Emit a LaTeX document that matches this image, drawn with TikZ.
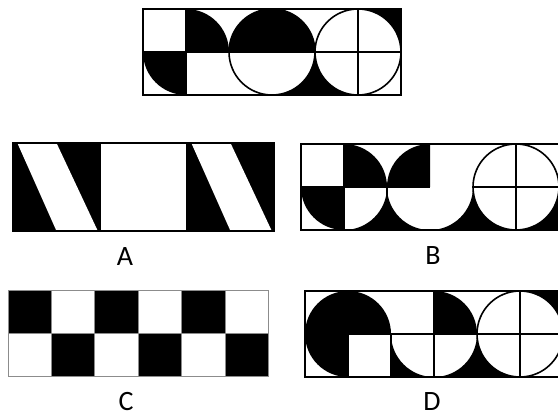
\documentclass[tikz,border=0pt]{standalone}
\usepackage{fontspec}
\setmainfont{Carlito}
\usepackage{tikz}

\tikzset{
    frame/.style={line width=1.8pt},
    cellline/.style={line width=1.6pt},
    greyline/.style={line width=0.9pt, draw=black!45},
    lab/.style={font=\fontsize{28}{30}\selectfont, inner sep=0pt},
}

\begin{document}
\begin{tikzpicture}[x=1pt, y=1pt]
\useasboundingbox (0,0) rectangle (558,418);

% =============================================================================
% Top: the given strip
% =============================================================================
\begin{scope}[shift={(143pt,323pt)}, x=43pt, y=43pt]
% black parts
\fill (1,1) -- (0,1) arc[start angle=180, end angle=270, radius=1] -- cycle;
\fill (1,1) -- (1,2) arc[start angle=90, end angle=0, radius=1] -- cycle;
\fill (2,1) arc[start angle=180, end angle=0, radius=1] -- cycle;
\fill (3,0) -- (5,0) arc[start angle=270, end angle=180, radius=1]
    arc[start angle=0, end angle=-90, radius=1] -- cycle;
\fill (6,2) -- (6,1) arc[start angle=0, end angle=90, radius=1] -- cycle;
% lines
\draw[cellline] (0,1) -- (2,1) (1,0) -- (1,2);
\draw[cellline] (3,1) circle (1) (2,1) -- (4,1);
\draw[cellline] (5,1) circle (1) (4,1) -- (6,1) (5,0) -- (5,2);
\draw[frame] (0,0) rectangle (6,2);
\end{scope}

% =============================================================================
% Option A
% =============================================================================
\begin{scope}[shift={(13pt,187pt)}, x=43.5pt, y=44pt]
\fill (0,0) rectangle (6,2);
\fill[white] (0.1,2) -- (1.0,2) -- (1.95,0) -- (1.0,0) -- cycle;
\fill[white] (4.1,2) -- (5.0,2) -- (5.95,0) -- (5.0,0) -- cycle;
\fill[white] (2,0) rectangle (4,2);
\draw[cellline] (2,0) rectangle (4,2);
\draw[frame] (0,0) rectangle (6,2);
\end{scope}
\node[lab] (labA) at (125,161) {A};

% =============================================================================
% Option B
% =============================================================================
\begin{scope}[shift={(301pt,188pt)}, x=43pt, y=43pt]
% black parts
\fill (1,1) -- (0,1) arc[start angle=180, end angle=270, radius=1] -- cycle;
\fill (1,1) -- (1,2) arc[start angle=90, end angle=0, radius=1] -- cycle;
\fill (1,0) -- (3,0) arc[start angle=270, end angle=180, radius=1]
    arc[start angle=0, end angle=-90, radius=1] -- cycle;
\fill (3,1) -- (2,1) arc[start angle=180, end angle=90, radius=1] -- cycle;
\fill (3,0) -- (5,0) arc[start angle=270, end angle=180, radius=1]
    arc[start angle=0, end angle=-90, radius=1] -- cycle;
\fill (6,0) -- (5,0) arc[start angle=270, end angle=360, radius=1] -- cycle;
% lines
\draw[cellline] (0,1) -- (3,1) (1,0) -- (1,2) (2,0) -- (2,1);
\draw[cellline] (5,1) circle (1) (4,1) -- (6,1) (5,0) -- (5,2);
\draw[frame] (0,0) rectangle (6,2);
\end{scope}
\node[lab] (labB) at (433,162) {B};

% =============================================================================
% Option C
% =============================================================================
\begin{scope}[shift={(8pt,42pt)}, x=43.4pt, y=43pt]
\foreach \i in {0,2,4} {
    \fill (\i,1) rectangle ++(1,1);
    \fill (\i+1,0) rectangle ++(1,1);
}
\draw[greyline] (0,1) -- (6,1);
\foreach \i in {1,...,5} {
    \draw[greyline] (\i,0) -- (\i,2);
}
\draw[greyline] (0,0) rectangle (6,2);
\end{scope}
\node[lab] (labC) at (126,16) {C};

% =============================================================================
% Option D
% =============================================================================
\begin{scope}[shift={(305pt,41pt)}, x=43pt, y=43pt]
% black parts
\fill (0,1) arc[start angle=180, end angle=0, radius=1] -- cycle;
\fill (1,1) -- (0,1) arc[start angle=180, end angle=270, radius=1] -- cycle;
\fill (2,0) -- (3,0) arc[start angle=270, end angle=180, radius=1] -- cycle;
\fill (3,1) -- (3,2) arc[start angle=90, end angle=0, radius=1] -- cycle;
\fill (3,0) -- (5,0) arc[start angle=270, end angle=180, radius=1]
    arc[start angle=0, end angle=-90, radius=1] -- cycle;
\fill (6,2) -- (6,1) arc[start angle=0, end angle=90, radius=1] -- cycle;
% lines
\draw[cellline] (1,1) -- (4,1) (1,0) -- (1,1) (2,0) -- (2,1) (3,0) -- (3,2);
\draw[cellline] (5,1) circle (1) (4,1) -- (6,1) (5,0) -- (5,2);
\draw[frame] (0,0) rectangle (6,2);
\end{scope}
\node[lab] (labD) at (432,16) {D};

\end{tikzpicture}
\end{document}
